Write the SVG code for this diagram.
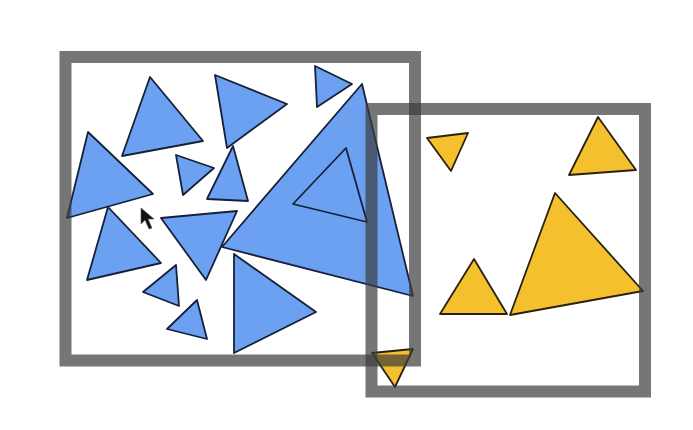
<svg xmlns="http://www.w3.org/2000/svg" width="693" height="430" viewBox="0 0 693 430">
<style>
.b{fill:#6ca0f0;stroke:#15203a;stroke-width:1.8;stroke-linejoin:round}
.y{fill:#f4c02e;stroke:#2a2010;stroke-width:1.8;stroke-linejoin:round}
.frame{fill:none;stroke:#3c3c3c;stroke-opacity:0.7;stroke-width:12}
</style>
<rect width="693" height="430" fill="#ffffff"/>
<g id="blue-triangles">
<polygon class="b" points="150,77 122,156 203,141"/>
<polygon class="b" points="88,132 67,218 153,194"/>
<polygon class="b" points="176,155 214,168 183,195"/>
<polygon class="b" points="215,75 287,104 227,148"/>
<polygon class="b" points="233,146 207,199 248,201"/>
<polygon class="b" points="315,66 352,84 317,107"/>
<polygon class="b" points="161,218 237,211 206,280"/>
<polygon class="b" points="362,84 222,247 413,296"/>
<polygon class="b" points="346,148 293,204 367,222"/>
<polygon class="b" points="108,207 87,280 161,263"/>
<polygon class="b" points="234,254 316,312 234,353"/>
<polygon class="b" points="176,265 143,292 179,306"/>
<polygon class="b" points="197,300 167,329 207,339"/>
</g>
<g id="yellow-triangles">
<polygon class="y" points="427,138 468,133 451,171"/>
<polygon class="y" points="598,117 569,175 636,170"/>
<polygon class="y" points="555,193 510,315 643,291"/>
<polygon class="y" points="474,259 440,314 507,314"/>
<polygon class="y" points="372,353 413,349 395,387"/>
</g>
<g id="left-box">
<rect class="frame" x="65.5" y="57" width="349.5" height="303.5"/>
</g>
<g id="right-box">
<rect class="frame" x="371.5" y="109" width="273.5" height="282.5"/>
</g>
<g id="cursor">
<polygon points="141,208 141,224 145,220 149,229 152,228 148,219 154,219" fill="#111111" stroke="#555555" stroke-width="0.6"/>
</g>
</svg>
